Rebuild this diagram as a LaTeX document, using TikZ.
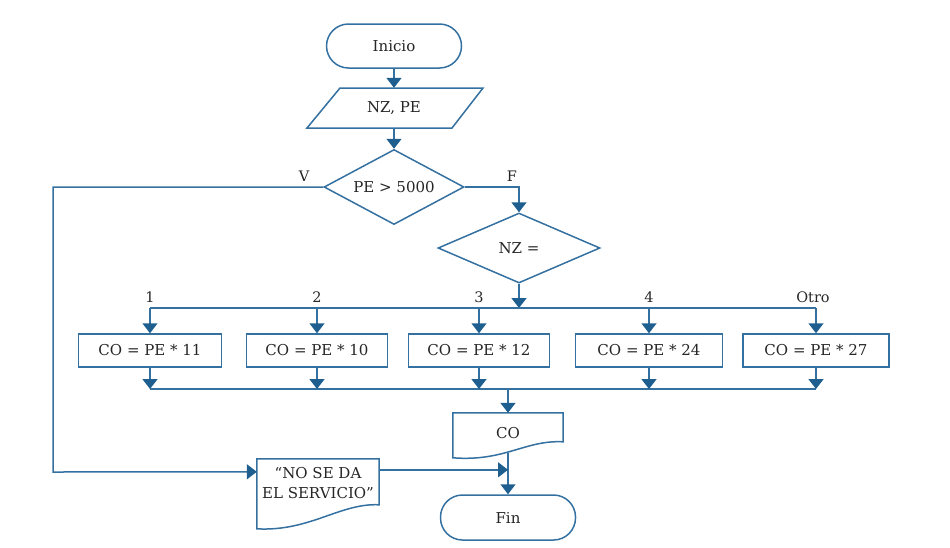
\documentclass[tikz,border=0pt]{standalone}
\usepackage{fontspec}
\setmainfont{DejaVu Serif}
\usetikzlibrary{arrows.meta,shapes.geometric,calc}
\definecolor{lineblue}{HTML}{3470A0}
\definecolor{tipblue}{HTML}{1F5F8F}
\definecolor{txt}{HTML}{262626}
\begin{document}
\begin{tikzpicture}[x=1pt,y=-1pt,
 every node/.style={font=\fontsize{15}{20}\selectfont, text=txt},
 ln/.style={draw=lineblue, line width=1.5pt},
 arr/.style={ln, -{Triangle[width=15pt,length=10pt,color=tipblue]}},
 term/.style={ln, rounded corners=22pt, minimum width=135pt, minimum height=44pt, inner sep=0pt},
 proc/.style={ln, minimum height=33pt, inner sep=0pt},
 dec/.style={ln, diamond, aspect=2, inner sep=0pt},
 plain/.style={inner sep=0pt},
 lbl/.style={inner sep=0pt, font=\fontsize{14.5}{16}\selectfont}
]
\useasboundingbox (0,0) rectangle (950,547);

% nodes
\node[term] (inicio) at (394,46) {Inicio};
\node[plain, minimum width=110pt, minimum height=40pt] (datos) at (394,108) {NZ, PE};
\node[dec, minimum width=140pt, minimum height=75pt] (d1) at (394,187) {PE > 5000};
\node[dec, minimum width=162pt, minimum height=70pt] (d2) at (519,248) {NZ =};

\node[proc, minimum width=143pt] (p1) at (150,350.5) {CO = PE * 11};
\node[proc, minimum width=141pt] (p2) at (317,350.5) {CO = PE * 10};
\node[proc, minimum width=141pt] (p3) at (479,350.5) {CO = PE * 12};
\node[proc, minimum width=147pt] (p4) at (649,350.5) {CO = PE * 24};
\node[proc, minimum width=146pt] (p5) at (816,350.5) {CO = PE * 27};

\node[plain, minimum width=110pt, minimum height=40pt] (co) at (508,433) {CO};
\node[plain, minimum width=122pt, minimum height=48pt, align=center] (nose) at (318,483) {“NO SE DA\\EL SERVICIO”};
\node[term, minimum width=135pt, minimum height=45pt] (fin) at (508,517.5) {Fin};

% labels
\node[lbl] (lv) at (304,176) {V};
\node[lbl] (lf) at (512,176) {F};

% coordinates
\coordinate (busy) at (0,308);
\coordinate (busz) at (0,389);
\foreach \i in {1,...,5}{
  \coordinate (b\i) at (p\i.north |- busy);
  \coordinate (c\i) at (p\i.south |- busz);
}
\node[lbl] (l1) at ($(b1)+(0,-11)$) {1};
\node[lbl] (l2) at ($(b2)+(0,-11)$) {2};
\node[lbl] (l3) at ($(b3)+(0,-11)$) {3};
\node[lbl] (l4) at ($(b4)+(0,-11)$) {4};
\node[lbl] (l5) at ($(b5)+(-3,-11)$) {Otro};
\coordinate (vb) at (53,472);
\coordinate (nin) at ($(nose.north west)+(0,13)$);
\coordinate (nout) at ($(nose.north east)+(0,11)$);

% shapes drawn directly
\draw[ln] ($(datos.center)+(-54,-20)$) -- ($(datos.center)+(89,-20)$) -- ($(datos.center)+(58,20)$) -- ($(datos.center)+(-87,20)$) -- cycle;
\draw[ln] (co.north west) -- (co.north east) -- ($(co.north east)+(0,29)$)
  .. controls ($(co.north east)+(-38,27)$) and ($(co.north west)+(52,49)$) .. ($(co.north west)+(0,45)$) -- cycle;
\draw[ln] (nose.north west) -- (nose.north east) -- ($(nose.north east)+(0,46)$)
  .. controls ($(nose.north east)+(-39,44)$) and ($(nose.north west)+(53,73)$) .. ($(nose.north west)+(0,70)$) -- cycle;

% connectors
\draw[arr] (inicio.south) -- (datos.north);
\draw[arr] (datos.south) -- (d1.north);
\draw[arr] (d1.west) -| (vb) -- (nin);
\draw[arr] (d1.east) -| (d2.north);
\draw[arr] (d2.south) -- (d2.south |- busy);
\draw[ln] (b1) -- (b5);
\draw[ln] (c1) -- (c5);
\foreach \i in {1,...,5}{
  \draw[arr] (b\i) -- (p\i.north);
  \draw[arr] (p\i.south) -- (c\i);
}
\draw[arr] (co.north |- busz) -- (co.north);
\draw[arr] (co.south) -- (fin.north);
\draw[arr] (nout) -- (nout -| co.south);
\end{tikzpicture}
\end{document}
